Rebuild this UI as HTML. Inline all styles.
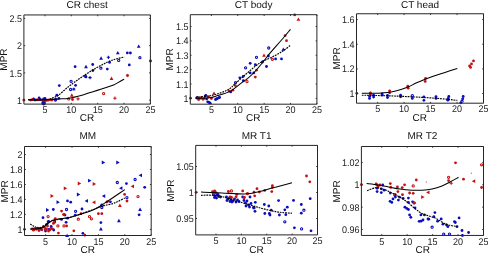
<!DOCTYPE html><html><head><meta charset="utf-8"><style>html,body{margin:0;padding:0;background:#fff;overflow:hidden;}svg{display:block;will-change:transform;text-rendering:geometricPrecision;font-family:"Liberation Sans",sans-serif;}</style></head><body>
<svg width="488" height="253" viewBox="0 0 488 253">
<rect width="488" height="253" fill="#fff"/>
<path d="M138.7,44.4 L140.6,47.82 L136.79999999999998,47.82Z" fill="#0c0cbc"/>
<path d="M117.8,50.9 L119.7,54.32 L115.89999999999999,54.32Z" fill="#0c0cbc"/>
<circle cx="127.3" cy="52.9" r="1.4" fill="#0c0cbc"/>
<circle cx="130.4" cy="53" r="1.4" fill="#0c0cbc"/>
<path d="M106.80000000000001,57.3 H110.0 M108.4,55.699999999999996 V58.9" stroke="#0c0cbc" stroke-width="1.1"/>
<path d="M101.1,56.300000000000004 L103.0,59.720000000000006 L99.19999999999999,59.720000000000006Z" fill="#0c0cbc"/>
<circle cx="139.9" cy="57.7" r="1.1" fill="none" stroke="#0c0cbc" stroke-width="1.1"/>
<circle cx="118.7" cy="60.4" r="1.1" fill="none" stroke="#0c0cbc" stroke-width="1.1"/>
<circle cx="109.6" cy="62.4" r="1.4" fill="#0c0cbc"/>
<circle cx="150.5" cy="61" r="1.4" fill="#0c0cbc"/>
<path d="M86,64.8 L87.9,68.22 L84.1,68.22Z" fill="#0c0cbc"/>
<circle cx="92.7" cy="64.5" r="1.4" fill="#0c0cbc"/>
<circle cx="100.9" cy="68.2" r="1.1" fill="none" stroke="#0c0cbc" stroke-width="1.1"/>
<circle cx="92.9" cy="70.5" r="1.4" fill="#0c0cbc"/>
<circle cx="107.3" cy="69.1" r="1.4" fill="#0c0cbc"/>
<circle cx="129.3" cy="64.9" r="1.4" fill="#0c0cbc"/>
<circle cx="86" cy="76.9" r="1.4" fill="#0c0cbc"/>
<path d="M88.4,77.6 H91.6 M90,76.0 V79.19999999999999" stroke="#0c0cbc" stroke-width="1.1"/>
<circle cx="75.1" cy="66.7" r="1.4" fill="#0c0cbc"/>
<circle cx="85.3" cy="76.2" r="1.1" fill="none" stroke="#0c0cbc" stroke-width="1.1"/>
<circle cx="71.1" cy="81.3" r="1.1" fill="none" stroke="#0c0cbc" stroke-width="1.1"/>
<circle cx="59.3" cy="85.6" r="1.4" fill="#0c0cbc"/>
<circle cx="75.6" cy="85.3" r="1.4" fill="#0c0cbc"/>
<circle cx="70.6" cy="89.5" r="1.1" fill="none" stroke="#0c0cbc" stroke-width="1.1"/>
<path d="M72.2,89.2 H75.39999999999999 M73.8,87.60000000000001 V90.8 M72.7,88.10000000000001 L74.89999999999999,90.3 M72.7,90.3 L74.89999999999999,88.10000000000001" stroke="#0c0cbc" stroke-width="0.9"/>
<circle cx="56.8" cy="95.2" r="1.4" fill="#0c0cbc"/>
<circle cx="55.4" cy="100" r="1.1" fill="none" stroke="#0c0cbc" stroke-width="1.1"/>
<circle cx="58.9" cy="98.3" r="1.4" fill="#0c0cbc"/>
<circle cx="33.6" cy="99" r="1.4" fill="#0c0cbc"/>
<circle cx="35" cy="100" r="1.4" fill="#0c0cbc"/>
<circle cx="39.1" cy="97.9" r="1.4" fill="#0c0cbc"/>
<circle cx="40" cy="99.5" r="1.4" fill="#0c0cbc"/>
<circle cx="43.6" cy="99" r="1.4" fill="#0c0cbc"/>
<circle cx="45" cy="98.5" r="1.4" fill="#0c0cbc"/>
<circle cx="43.6" cy="103.1" r="2.3" fill="#0c0cbc"/>
<circle cx="55.7" cy="99.4" r="1.4" fill="#0c0cbc"/>
<path d="M111.5,76.6 L113.4,80.02 L109.6,80.02Z" fill="#c41212"/>
<path d="M125.9,75.5 H129.1 M127.5,73.9 V77.1 M126.4,74.4 L128.6,76.6 M126.4,76.6 L128.6,74.4" stroke="#c41212" stroke-width="0.9"/>
<circle cx="103.6" cy="93.6" r="1.1" fill="none" stroke="#c41212" stroke-width="1.1"/>
<path d="M71.8,93.3 L73.7,96.72 L69.89999999999999,96.72Z" fill="#c41212"/>
<circle cx="68.7" cy="98.9" r="1.1" fill="none" stroke="#c41212" stroke-width="1.1"/>
<circle cx="72.5" cy="99.5" r="1.4" fill="#c41212"/>
<path d="M76.4,98.9 H79.6 M78,97.30000000000001 V100.5" stroke="#c41212" stroke-width="1.1"/>
<circle cx="23.8" cy="100.1" r="1.4" fill="#c41212"/>
<circle cx="30.6" cy="100.1" r="1.4" fill="#c41212"/>
<circle cx="36.8" cy="99.8" r="1.4" fill="#c41212"/>
<circle cx="41.5" cy="99.8" r="1.4" fill="#c41212"/>
<circle cx="47.8" cy="100.1" r="1.4" fill="#c41212"/>
<circle cx="52" cy="100" r="1.4" fill="#c41212"/>
<path d="M113.30000000000001,98.2 H116.5 M114.9,96.60000000000001 V99.8" stroke="#c41212" stroke-width="1.1"/>
<circle cx="32.5" cy="99.5" r="1.4" fill="#c41212"/>
<circle cx="38" cy="99.8" r="1.4" fill="#c41212"/>
<circle cx="44.5" cy="100.8" r="1.4" fill="#c41212"/>
<circle cx="50" cy="99.8" r="1.4" fill="#c41212"/>
<circle cx="46.1" cy="100.5" r="1.4" fill="#c41212"/>
<circle cx="48.4" cy="100.1" r="1.4" fill="#c41212"/>
<path d="M28.00,99.80 C30.00,99.82 36.33,99.93 40.00,99.90 C43.67,99.87 46.83,99.75 50.00,99.60 C53.17,99.45 55.83,99.23 59.00,99.00 C62.17,98.77 65.17,98.83 69.00,98.20 C72.83,97.57 78.50,96.13 82.00,95.20 C85.50,94.27 87.00,93.55 90.00,92.60 C93.00,91.65 96.08,90.78 100.00,89.50 C103.92,88.22 110.50,86.05 113.50,84.90 C116.50,83.75 116.23,83.55 118.00,82.60 C119.77,81.65 123.08,79.77 124.10,79.20" fill="none" stroke="#000" stroke-width="1.05"/>
<path d="M28.00,99.80 C30.00,99.82 36.75,99.95 40.00,99.90 C43.25,99.85 45.33,99.85 47.50,99.50 C49.67,99.15 51.18,98.50 53.00,97.80 C54.82,97.10 55.98,97.02 58.40,95.30 C60.82,93.58 64.48,89.93 67.50,87.50 C70.52,85.07 73.42,82.92 76.50,80.70 C79.58,78.48 82.60,76.38 86.00,74.20 C89.40,72.02 93.27,69.63 96.90,67.60 C100.53,65.57 104.62,63.43 107.80,62.00 C110.98,60.57 113.27,59.82 116.00,59.00 C118.73,58.18 122.83,57.42 124.20,57.10" fill="none" stroke="#000" stroke-width="1.15" stroke-dasharray="1.8,0.9"/>
<path d="M23.9,14.95 H150.4 V104.1 H23.9 Z" fill="none" stroke="#262626" stroke-width="1.0"/>
<path d="M44.98,104.1 V102.8 M44.98,14.95 V16.25" stroke="#262626" stroke-width="0.9"/>
<text x="44.98" y="112.6" font-size="9.7" text-anchor="middle" fill="#222" textLength="5.004" lengthAdjust="spacingAndGlyphs">5</text>
<path d="M71.34,104.1 V102.8 M71.34,14.95 V16.25" stroke="#262626" stroke-width="0.9"/>
<text x="71.34" y="112.6" font-size="9.7" text-anchor="middle" fill="#222" textLength="10.008" lengthAdjust="spacingAndGlyphs">10</text>
<path d="M97.69,104.1 V102.8 M97.69,14.95 V16.25" stroke="#262626" stroke-width="0.9"/>
<text x="97.69" y="112.6" font-size="9.7" text-anchor="middle" fill="#222" textLength="10.008" lengthAdjust="spacingAndGlyphs">15</text>
<path d="M124.05,104.1 V102.8 M124.05,14.95 V16.25" stroke="#262626" stroke-width="0.9"/>
<text x="124.05" y="112.6" font-size="9.7" text-anchor="middle" fill="#222" textLength="10.008" lengthAdjust="spacingAndGlyphs">20</text>
<path d="M150.40,104.1 V102.8 M150.40,14.95 V16.25" stroke="#262626" stroke-width="0.9"/>
<text x="150.40" y="112.6" font-size="9.7" text-anchor="middle" fill="#222" textLength="10.008" lengthAdjust="spacingAndGlyphs">25</text>
<path d="M23.9,100.15 H25.2 M150.4,100.15 H149.1" stroke="#262626" stroke-width="0.9"/>
<text x="22.00" y="103.75" font-size="9.7" text-anchor="end" fill="#222" textLength="5.004" lengthAdjust="spacingAndGlyphs">1</text>
<path d="M23.9,72.9 H25.2 M150.4,72.9 H149.1" stroke="#262626" stroke-width="0.9"/>
<text x="22.00" y="76.50" font-size="9.7" text-anchor="end" fill="#222" textLength="12.51" lengthAdjust="spacingAndGlyphs">1.5</text>
<path d="M23.9,45.65 H25.2 M150.4,45.65 H149.1" stroke="#262626" stroke-width="0.9"/>
<text x="22.00" y="49.25" font-size="9.7" text-anchor="end" fill="#222" textLength="5.004" lengthAdjust="spacingAndGlyphs">2</text>
<path d="M23.9,18.4 H25.2 M150.4,18.4 H149.1" stroke="#262626" stroke-width="0.9"/>
<text x="22.00" y="22.00" font-size="9.7" text-anchor="end" fill="#222" textLength="12.51" lengthAdjust="spacingAndGlyphs">2.5</text>
<text x="87.15" y="8.1" font-size="10" text-anchor="middle" fill="#111">CR chest</text>
<text x="87.0" y="120.9" font-size="10" text-anchor="middle" fill="#111">CR</text>
<text transform="translate(7.4,59.52) rotate(-90)" x="0" y="0" font-size="10" text-anchor="middle" fill="#111">MPR</text>
<circle cx="268.7" cy="48" r="1.1" fill="none" stroke="#0c0cbc" stroke-width="1.1"/>
<path d="M283.3,47.4 L285.2,50.82 L281.40000000000003,50.82Z" fill="#0c0cbc"/>
<circle cx="256.5" cy="57.3" r="1.1" fill="none" stroke="#0c0cbc" stroke-width="1.1"/>
<circle cx="268.4" cy="56" r="1.4" fill="#0c0cbc"/>
<circle cx="275.6" cy="58.9" r="1.4" fill="#0c0cbc"/>
<circle cx="281.5" cy="58.9" r="1.4" fill="#0c0cbc"/>
<circle cx="262.5" cy="62" r="1.4" fill="#0c0cbc"/>
<circle cx="266.5" cy="66.5" r="1.4" fill="#0c0cbc"/>
<circle cx="250.2" cy="63.3" r="1.4" fill="#0c0cbc"/>
<circle cx="245.6" cy="67.8" r="1.1" fill="none" stroke="#0c0cbc" stroke-width="1.1"/>
<circle cx="255.3" cy="64.7" r="1.4" fill="#0c0cbc"/>
<circle cx="250.2" cy="72.9" r="1.4" fill="#0c0cbc"/>
<circle cx="253.8" cy="72.9" r="1.4" fill="#0c0cbc"/>
<circle cx="239.8" cy="77.8" r="1.4" fill="#0c0cbc"/>
<circle cx="243.2" cy="76.4" r="1.4" fill="#0c0cbc"/>
<circle cx="243.3" cy="80.7" r="1.4" fill="#0c0cbc"/>
<circle cx="235.5" cy="82.6" r="1.1" fill="none" stroke="#0c0cbc" stroke-width="1.1"/>
<circle cx="207.7" cy="101.8" r="1.4" fill="#0c0cbc"/>
<circle cx="209.9" cy="102.9" r="1.4" fill="#0c0cbc"/>
<circle cx="208.8" cy="102.3" r="1.4" fill="#0c0cbc"/>
<circle cx="205.8" cy="95.5" r="1.4" fill="#0c0cbc"/>
<circle cx="216.4" cy="99" r="1.4" fill="#0c0cbc"/>
<circle cx="219.3" cy="97.6" r="1.4" fill="#0c0cbc"/>
<circle cx="230.7" cy="91.9" r="1.4" fill="#0c0cbc"/>
<circle cx="197.4" cy="97.4" r="1.4" fill="#0c0cbc"/>
<circle cx="199.2" cy="98.9" r="1.4" fill="#0c0cbc"/>
<path d="M203.9,95.5 H207.1 M205.5,93.9 V97.1" stroke="#0c0cbc" stroke-width="1.1"/>
<circle cx="206.6" cy="98.9" r="1.4" fill="#0c0cbc"/>
<circle cx="215.5" cy="99.5" r="1.4" fill="#0c0cbc"/>
<circle cx="217.5" cy="98.5" r="1.4" fill="#0c0cbc"/>
<circle cx="219.5" cy="97.3" r="1.4" fill="#0c0cbc"/>
<circle cx="294.7" cy="14.9" r="1.4" fill="#c41212"/>
<path d="M298.4,17.400000000000002 L300.29999999999995,20.82 L296.5,20.82Z" fill="#c41212"/>
<circle cx="285.1" cy="35.6" r="1.4" fill="#c41212"/>
<circle cx="286.5" cy="40.7" r="1.4" fill="#c41212"/>
<path d="M264,53.4 L265.9,56.82 L262.1,56.82Z" fill="#c41212"/>
<circle cx="272.4" cy="59.3" r="1.1" fill="none" stroke="#c41212" stroke-width="1.1"/>
<circle cx="256.5" cy="70.2" r="1.4" fill="#c41212"/>
<circle cx="255.3" cy="77.1" r="1.4" fill="#c41212"/>
<circle cx="247" cy="81.6" r="1.1" fill="none" stroke="#c41212" stroke-width="1.1"/>
<circle cx="235.3" cy="85.6" r="1.4" fill="#c41212"/>
<circle cx="232.9" cy="90.2" r="1.4" fill="#c41212"/>
<circle cx="190.5" cy="98.2" r="1.4" fill="#c41212"/>
<path d="M214,91.39999999999999 L215.9,94.82 L212.1,94.82Z" fill="#c41212"/>
<circle cx="229.3" cy="91.2" r="1.4" fill="#c41212"/>
<circle cx="196.6" cy="98.1" r="1.4" fill="#c41212"/>
<circle cx="201.1" cy="97.7" r="1.4" fill="#c41212"/>
<circle cx="204.4" cy="98.1" r="1.4" fill="#c41212"/>
<circle cx="208.5" cy="97" r="1.4" fill="#c41212"/>
<circle cx="211.4" cy="98.5" r="1.4" fill="#c41212"/>
<circle cx="198.5" cy="99.5" r="1.4" fill="#c41212"/>
<circle cx="203" cy="99.3" r="1.4" fill="#c41212"/>
<path d="M195.80,98.40 C198.00,98.30 205.47,98.23 209.00,97.80 C212.53,97.37 213.52,96.87 217.00,95.80 C220.48,94.73 225.98,93.43 229.90,91.40 C233.82,89.37 237.57,85.73 240.50,83.60 C243.43,81.47 245.08,80.62 247.50,78.60 C249.92,76.58 252.48,74.18 255.00,71.50 C257.52,68.82 260.10,65.55 262.60,62.50 C265.10,59.45 266.85,56.95 270.00,53.20 C273.15,49.45 278.08,43.98 281.50,40.00 C284.92,36.02 289.00,31.08 290.50,29.30" fill="none" stroke="#000" stroke-width="1.05"/>
<path d="M195.80,97.40 C198.63,97.03 207.48,96.43 212.80,95.20 C218.12,93.97 223.97,91.93 227.70,90.00 C231.43,88.07 232.18,86.22 235.20,83.60 C238.22,80.98 242.43,77.20 245.80,74.30 C249.17,71.40 252.70,68.32 255.40,66.20 C258.10,64.08 259.30,63.08 262.00,61.60 C264.70,60.12 268.18,59.02 271.60,57.30 C275.02,55.58 279.35,53.32 282.50,51.30 C285.65,49.28 289.17,46.22 290.50,45.20" fill="none" stroke="#000" stroke-width="1.15" stroke-dasharray="1.8,0.9"/>
<path d="M190.3,14.7 H316.9 V104.2 H190.3 Z" fill="none" stroke="#262626" stroke-width="1.0"/>
<path d="M211.40,104.2 V102.9 M211.40,14.7 V16.0" stroke="#262626" stroke-width="0.9"/>
<text x="211.40" y="112.6" font-size="9.7" text-anchor="middle" fill="#222" textLength="5.004" lengthAdjust="spacingAndGlyphs">5</text>
<path d="M237.78,104.2 V102.9 M237.78,14.7 V16.0" stroke="#262626" stroke-width="0.9"/>
<text x="237.78" y="112.6" font-size="9.7" text-anchor="middle" fill="#222" textLength="10.008" lengthAdjust="spacingAndGlyphs">10</text>
<path d="M264.15,104.2 V102.9 M264.15,14.7 V16.0" stroke="#262626" stroke-width="0.9"/>
<text x="264.15" y="112.6" font-size="9.7" text-anchor="middle" fill="#222" textLength="10.008" lengthAdjust="spacingAndGlyphs">15</text>
<path d="M290.52,104.2 V102.9 M290.52,14.7 V16.0" stroke="#262626" stroke-width="0.9"/>
<text x="290.52" y="112.6" font-size="9.7" text-anchor="middle" fill="#222" textLength="10.008" lengthAdjust="spacingAndGlyphs">20</text>
<path d="M316.90,104.2 V102.9 M316.90,14.7 V16.0" stroke="#262626" stroke-width="0.9"/>
<text x="316.90" y="112.6" font-size="9.7" text-anchor="middle" fill="#222" textLength="10.008" lengthAdjust="spacingAndGlyphs">25</text>
<path d="M190.3,98.4 H191.60000000000002 M316.9,98.4 H315.59999999999997" stroke="#262626" stroke-width="0.9"/>
<text x="188.40" y="102.00" font-size="9.7" text-anchor="end" fill="#222" textLength="5.004" lengthAdjust="spacingAndGlyphs">1</text>
<path d="M190.3,84.02 H191.60000000000002 M316.9,84.02 H315.59999999999997" stroke="#262626" stroke-width="0.9"/>
<text x="188.40" y="87.62" font-size="9.7" text-anchor="end" fill="#222" textLength="12.51" lengthAdjust="spacingAndGlyphs">1.1</text>
<path d="M190.3,69.64 H191.60000000000002 M316.9,69.64 H315.59999999999997" stroke="#262626" stroke-width="0.9"/>
<text x="188.40" y="73.24" font-size="9.7" text-anchor="end" fill="#222" textLength="12.51" lengthAdjust="spacingAndGlyphs">1.2</text>
<path d="M190.3,55.26 H191.60000000000002 M316.9,55.26 H315.59999999999997" stroke="#262626" stroke-width="0.9"/>
<text x="188.40" y="58.86" font-size="9.7" text-anchor="end" fill="#222" textLength="12.51" lengthAdjust="spacingAndGlyphs">1.3</text>
<path d="M190.3,40.88 H191.60000000000002 M316.9,40.88 H315.59999999999997" stroke="#262626" stroke-width="0.9"/>
<text x="188.40" y="44.48" font-size="9.7" text-anchor="end" fill="#222" textLength="12.51" lengthAdjust="spacingAndGlyphs">1.4</text>
<path d="M190.3,26.5 H191.60000000000002 M316.9,26.5 H315.59999999999997" stroke="#262626" stroke-width="0.9"/>
<text x="188.40" y="30.10" font-size="9.7" text-anchor="end" fill="#222" textLength="12.51" lengthAdjust="spacingAndGlyphs">1.5</text>
<text x="253.60" y="8.1" font-size="10" text-anchor="middle" fill="#111">CT body</text>
<text x="253.2" y="120.9" font-size="10" text-anchor="middle" fill="#111">CR</text>
<text transform="translate(173.4,59.45) rotate(-90)" x="0" y="0" font-size="10" text-anchor="middle" fill="#111">MPR</text>
<circle cx="369.7" cy="96.4" r="1.4" fill="#0c0cbc"/>
<circle cx="369.5" cy="98.4" r="1.4" fill="#0c0cbc"/>
<circle cx="373.6" cy="95.2" r="1.4" fill="#0c0cbc"/>
<circle cx="373.6" cy="97.0" r="1.4" fill="#0c0cbc"/>
<circle cx="382.1" cy="94" r="1.4" fill="#0c0cbc"/>
<circle cx="382.1" cy="95.0" r="1.4" fill="#0c0cbc"/>
<circle cx="387.5" cy="95.5" r="1.4" fill="#0c0cbc"/>
<circle cx="387.5" cy="97.6" r="1.4" fill="#0c0cbc"/>
<circle cx="400.6" cy="95.2" r="1.4" fill="#0c0cbc"/>
<circle cx="400.6" cy="96.8" r="1.4" fill="#0c0cbc"/>
<circle cx="412.3" cy="95.6" r="1.1" fill="none" stroke="#0c0cbc" stroke-width="1.1"/>
<circle cx="412.3" cy="98.4" r="1.4" fill="#0c0cbc"/>
<circle cx="423.9" cy="96.9" r="1.4" fill="#0c0cbc"/>
<circle cx="423.9" cy="100.3" r="1.4" fill="#0c0cbc"/>
<circle cx="436" cy="96.6" r="1.4" fill="#0c0cbc"/>
<circle cx="436" cy="98.4" r="1.4" fill="#0c0cbc"/>
<circle cx="448.8" cy="96.5" r="1.4" fill="#0c0cbc"/>
<circle cx="447.8" cy="100.2" r="1.4" fill="#0c0cbc"/>
<circle cx="448.2" cy="98.4" r="1.4" fill="#0c0cbc"/>
<circle cx="463.2" cy="96.5" r="1.4" fill="#0c0cbc"/>
<circle cx="462" cy="101.2" r="1.1" fill="none" stroke="#0c0cbc" stroke-width="1.1"/>
<circle cx="462.7" cy="98.8" r="1.4" fill="#0c0cbc"/>
<circle cx="460.8" cy="102.8" r="1.4" fill="#0c0cbc"/>
<circle cx="356.8" cy="93.3" r="1.4" fill="#c41212"/>
<circle cx="370.4" cy="93.0" r="1.4" fill="#c41212"/>
<circle cx="370.4" cy="94.6" r="1.4" fill="#c41212"/>
<circle cx="389.6" cy="90.8" r="1.4" fill="#c41212"/>
<circle cx="389.6" cy="92.8" r="1.4" fill="#c41212"/>
<circle cx="407.8" cy="86.2" r="1.4" fill="#c41212"/>
<circle cx="408.2" cy="88.2" r="1.4" fill="#c41212"/>
<circle cx="425.6" cy="78.4" r="1.4" fill="#c41212"/>
<circle cx="425.2" cy="81.4" r="1.4" fill="#c41212"/>
<circle cx="469.6" cy="65.9" r="1.4" fill="#c41212"/>
<circle cx="471.5" cy="63.9" r="1.4" fill="#c41212"/>
<circle cx="473.5" cy="60.9" r="1.4" fill="#c41212"/>
<circle cx="470.6" cy="67.4" r="1.4" fill="#c41212"/>
<path d="M361.80,93.30 C364.42,93.28 373.13,93.32 377.50,93.20 C381.87,93.08 384.67,93.03 388.00,92.60 C391.33,92.17 394.28,91.48 397.50,90.60 C400.72,89.72 404.22,88.55 407.30,87.30 C410.38,86.05 413.05,84.45 416.00,83.10 C418.95,81.75 422.00,80.38 425.00,79.20 C428.00,78.02 430.67,77.13 434.00,76.00 C437.33,74.87 441.12,73.63 445.00,72.40 C448.88,71.17 455.25,69.23 457.30,68.60" fill="none" stroke="#000" stroke-width="1.05"/>
<path d="M361.80,95.20 C367.17,95.33 381.97,95.52 394.00,96.00 C406.03,96.48 423.45,97.37 434.00,98.10 C444.55,98.83 453.42,100.02 457.30,100.40" fill="none" stroke="#000" stroke-width="1.15" stroke-dasharray="1.8,0.9"/>
<path d="M356.5,13.75 H483.5 V103.2 H356.5 Z" fill="none" stroke="#262626" stroke-width="1.0"/>
<path d="M377.67,103.2 V101.9 M377.67,13.75 V15.05" stroke="#262626" stroke-width="0.9"/>
<text x="377.67" y="111.89999999999999" font-size="9.7" text-anchor="middle" fill="#222" textLength="5.004" lengthAdjust="spacingAndGlyphs">5</text>
<path d="M404.12,103.2 V101.9 M404.12,13.75 V15.05" stroke="#262626" stroke-width="0.9"/>
<text x="404.12" y="111.89999999999999" font-size="9.7" text-anchor="middle" fill="#222" textLength="10.008" lengthAdjust="spacingAndGlyphs">10</text>
<path d="M430.58,103.2 V101.9 M430.58,13.75 V15.05" stroke="#262626" stroke-width="0.9"/>
<text x="430.58" y="111.89999999999999" font-size="9.7" text-anchor="middle" fill="#222" textLength="10.008" lengthAdjust="spacingAndGlyphs">15</text>
<path d="M457.04,103.2 V101.9 M457.04,13.75 V15.05" stroke="#262626" stroke-width="0.9"/>
<text x="457.04" y="111.89999999999999" font-size="9.7" text-anchor="middle" fill="#222" textLength="10.008" lengthAdjust="spacingAndGlyphs">20</text>
<path d="M483.50,103.2 V101.9 M483.50,13.75 V15.05" stroke="#262626" stroke-width="0.9"/>
<text x="483.50" y="111.89999999999999" font-size="9.7" text-anchor="middle" fill="#222" textLength="10.008" lengthAdjust="spacingAndGlyphs">25</text>
<path d="M356.5,93.5 H357.8 M483.5,93.5 H482.2" stroke="#262626" stroke-width="0.9"/>
<text x="354.60" y="97.10" font-size="9.7" text-anchor="end" fill="#222" textLength="5.004" lengthAdjust="spacingAndGlyphs">1</text>
<path d="M356.5,68.87 H357.8 M483.5,68.87 H482.2" stroke="#262626" stroke-width="0.9"/>
<text x="354.60" y="72.47" font-size="9.7" text-anchor="end" fill="#222" textLength="12.51" lengthAdjust="spacingAndGlyphs">1.2</text>
<path d="M356.5,44.23 H357.8 M483.5,44.23 H482.2" stroke="#262626" stroke-width="0.9"/>
<text x="354.60" y="47.83" font-size="9.7" text-anchor="end" fill="#222" textLength="12.51" lengthAdjust="spacingAndGlyphs">1.4</text>
<path d="M356.5,19.6 H357.8 M483.5,19.6 H482.2" stroke="#262626" stroke-width="0.9"/>
<text x="354.60" y="23.20" font-size="9.7" text-anchor="end" fill="#222" textLength="12.51" lengthAdjust="spacingAndGlyphs">1.6</text>
<text x="420.00" y="7.6" font-size="10" text-anchor="middle" fill="#111">CT head</text>
<text x="419.8" y="120.5" font-size="10" text-anchor="middle" fill="#111">CR</text>
<text transform="translate(340.4,58.48) rotate(-90)" x="0" y="0" font-size="10" text-anchor="middle" fill="#111">MPR</text>
<path d="M105.2,162.5 L101.78,160.6 L101.78,164.4Z" fill="#0c0cbc"/>
<path d="M119.7,162.5 L116.28,160.6 L116.28,164.4Z" fill="#0c0cbc"/>
<path d="M138.6,175.3 L142.02,173.4 L142.02,177.20000000000002Z" fill="#0c0cbc"/>
<circle cx="135.1" cy="179.5" r="1.1" fill="none" stroke="#0c0cbc" stroke-width="1.1"/>
<path d="M91.5,180.7 L88.08,178.79999999999998 L88.08,182.6Z" fill="#0c0cbc"/>
<circle cx="117.3" cy="182.5" r="1.1" fill="none" stroke="#0c0cbc" stroke-width="1.1"/>
<circle cx="126.4" cy="183.6" r="1.4" fill="#0c0cbc"/>
<path d="M119.0,188.2 L122.42,186.29999999999998 L122.42,190.1Z" fill="#0c0cbc"/>
<circle cx="144.7" cy="187.3" r="1.4" fill="#0c0cbc"/>
<path d="M80.30000000000001,194.5 L76.88000000000001,192.6 L76.88000000000001,196.4Z" fill="#0c0cbc"/>
<path d="M59.9,202.2 L56.48,200.29999999999998 L56.48,204.1Z" fill="#0c0cbc"/>
<circle cx="67.5" cy="200.9" r="1.4" fill="#0c0cbc"/>
<circle cx="70.7" cy="202.2" r="1.4" fill="#0c0cbc"/>
<path d="M84.6,200.9 L88.02,199.0 L88.02,202.8Z" fill="#0c0cbc"/>
<path d="M49.4,210 L45.98,208.1 L45.98,211.9Z" fill="#0c0cbc"/>
<circle cx="53.3" cy="209.5" r="1.4" fill="#0c0cbc"/>
<circle cx="66.5" cy="209.5" r="1.1" fill="none" stroke="#0c0cbc" stroke-width="1.1"/>
<circle cx="75.6" cy="211.3" r="1.1" fill="none" stroke="#0c0cbc" stroke-width="1.1"/>
<circle cx="82" cy="209" r="1.4" fill="#0c0cbc"/>
<path d="M101.8,196.1 L105.22,194.2 L105.22,198.0Z" fill="#0c0cbc"/>
<circle cx="110.4" cy="201.8" r="1.4" fill="#0c0cbc"/>
<circle cx="126.9" cy="197.6" r="1.1" fill="none" stroke="#0c0cbc" stroke-width="1.1"/>
<circle cx="101.8" cy="205.2" r="1.1" fill="none" stroke="#0c0cbc" stroke-width="1.1"/>
<circle cx="101.8" cy="207.5" r="1.1" fill="none" stroke="#0c0cbc" stroke-width="1.1"/>
<circle cx="75.3" cy="215.1" r="1.4" fill="#0c0cbc"/>
<path d="M118.9,218.79999999999998 L120.80000000000001,222.22 L117.0,222.22Z" fill="#0c0cbc"/>
<circle cx="100.9" cy="222.6" r="1.4" fill="#0c0cbc"/>
<path d="M100.9,227.0 L102.80000000000001,230.42000000000002 L99.0,230.42000000000002Z" fill="#0c0cbc"/>
<circle cx="82.9" cy="233.3" r="1.4" fill="#0c0cbc"/>
<path d="M140.1,207.6 L142.0,211.02 L138.2,211.02Z" fill="#0c0cbc"/>
<circle cx="139.1" cy="214.8" r="1.4" fill="#0c0cbc"/>
<circle cx="39.4" cy="228.4" r="1.4" fill="#0c0cbc"/>
<circle cx="41.4" cy="229.5" r="1.4" fill="#0c0cbc"/>
<circle cx="49.1" cy="229.5" r="1.4" fill="#0c0cbc"/>
<circle cx="51.2" cy="226.4" r="1.4" fill="#0c0cbc"/>
<circle cx="53.7" cy="230" r="1.4" fill="#0c0cbc"/>
<circle cx="43" cy="217.7" r="1.4" fill="#0c0cbc"/>
<circle cx="48.1" cy="221.8" r="1.4" fill="#0c0cbc"/>
<circle cx="65" cy="215.1" r="1.4" fill="#0c0cbc"/>
<circle cx="66.1" cy="222.3" r="1.4" fill="#0c0cbc"/>
<circle cx="61.5" cy="219.4" r="1.4" fill="#0c0cbc"/>
<circle cx="67.6" cy="218.2" r="1.4" fill="#0c0cbc"/>
<path d="M67.1,233.7 L69.0,237.12 L65.19999999999999,237.12Z" fill="#0c0cbc"/>
<circle cx="45.5" cy="231" r="1.4" fill="#0c0cbc"/>
<circle cx="46.7" cy="224.3" r="1.4" fill="#0c0cbc"/>
<circle cx="48.6" cy="221.5" r="1.4" fill="#0c0cbc"/>
<circle cx="54.8" cy="222" r="1.4" fill="#0c0cbc"/>
<path d="M96.10000000000001,184 L92.68,182.1 L92.68,185.9Z" fill="#c41212"/>
<path d="M81.2,183.5 L77.78,181.6 L77.78,185.4Z" fill="#c41212"/>
<path d="M67.2,188.3 L63.779999999999994,186.4 L63.779999999999994,190.20000000000002Z" fill="#c41212"/>
<path d="M53.9,196 L50.48,194.1 L50.48,197.9Z" fill="#c41212"/>
<circle cx="61.6" cy="211.1" r="1.4" fill="#c41212"/>
<circle cx="64.2" cy="214.4" r="1.4" fill="#c41212"/>
<circle cx="78.3" cy="219.2" r="1.1" fill="none" stroke="#c41212" stroke-width="1.1"/>
<circle cx="24.4" cy="229.3" r="1.4" fill="#c41212"/>
<path d="M92.0,202.3 L95.42,200.4 L95.42,204.20000000000002Z" fill="#c41212"/>
<circle cx="107.5" cy="201.6" r="1.4" fill="#c41212"/>
<circle cx="124.6" cy="194.4" r="1.4" fill="#c41212"/>
<path d="M119.9,203.6 L121.80000000000001,207.02 L118.0,207.02Z" fill="#c41212"/>
<circle cx="81" cy="213.7" r="1.4" fill="#c41212"/>
<circle cx="89.5" cy="216.6" r="1.1" fill="none" stroke="#c41212" stroke-width="1.1"/>
<circle cx="91.4" cy="218.8" r="1.1" fill="none" stroke="#c41212" stroke-width="1.1"/>
<circle cx="98.4" cy="213.7" r="1.4" fill="#c41212"/>
<circle cx="101.8" cy="213.7" r="1.4" fill="#c41212"/>
<circle cx="73.8" cy="230.8" r="1.4" fill="#c41212"/>
<circle cx="84.8" cy="235.2" r="1.4" fill="#c41212"/>
<path d="M130.6,186.3 L134.02,184.4 L134.02,188.20000000000002Z" fill="#c41212"/>
<circle cx="127" cy="201" r="1.4" fill="#c41212"/>
<circle cx="138" cy="196.6" r="1.1" fill="none" stroke="#c41212" stroke-width="1.1"/>
<circle cx="106.8" cy="202.1" r="1.4" fill="#c41212"/>
<circle cx="32.2" cy="229" r="1.4" fill="#c41212"/>
<circle cx="34.5" cy="228.6" r="1.4" fill="#c41212"/>
<circle cx="36.3" cy="229.3" r="1.4" fill="#c41212"/>
<circle cx="39" cy="230.5" r="1.4" fill="#c41212"/>
<circle cx="42" cy="229.8" r="1.4" fill="#c41212"/>
<circle cx="44.5" cy="227.5" r="1.4" fill="#c41212"/>
<circle cx="46.5" cy="229" r="1.4" fill="#c41212"/>
<circle cx="48.5" cy="231" r="1.4" fill="#c41212"/>
<circle cx="51" cy="228.2" r="1.4" fill="#c41212"/>
<circle cx="54.8" cy="219.7" r="1.4" fill="#c41212"/>
<circle cx="54.3" cy="222.3" r="1.4" fill="#c41212"/>
<circle cx="48.1" cy="216.6" r="1.1" fill="none" stroke="#c41212" stroke-width="1.1"/>
<circle cx="63.5" cy="214.6" r="1.4" fill="#c41212"/>
<circle cx="57.9" cy="225.9" r="1.1" fill="none" stroke="#c41212" stroke-width="1.1"/>
<circle cx="64" cy="225.9" r="1.1" fill="none" stroke="#c41212" stroke-width="1.1"/>
<circle cx="66.6" cy="225.9" r="1.4" fill="#c41212"/>
<circle cx="58.4" cy="233.1" r="1.4" fill="#c41212"/>
<circle cx="43.5" cy="226.5" r="1.4" fill="#c41212"/>
<circle cx="47.5" cy="226" r="1.4" fill="#c41212"/>
<circle cx="33.5" cy="230.2" r="1.4" fill="#c41212"/>
<circle cx="37.5" cy="228.2" r="1.4" fill="#c41212"/>
<circle cx="40.5" cy="228.2" r="1.4" fill="#c41212"/>
<circle cx="45.5" cy="229.5" r="1.4" fill="#c41212"/>
<circle cx="50" cy="229.8" r="1.4" fill="#c41212"/>
<circle cx="52.4" cy="228.8" r="1.4" fill="#c41212"/>
<circle cx="53.4" cy="223.4" r="1.4" fill="#c41212"/>
<circle cx="55.3" cy="218.6" r="1.4" fill="#c41212"/>
<path d="M29.90,229.10 C31.48,229.02 37.05,228.98 39.40,228.60 C41.75,228.22 42.57,227.67 44.00,226.80 C45.43,225.93 46.67,224.40 48.00,223.40 C49.33,222.40 50.53,221.47 52.00,220.80 C53.47,220.13 55.13,219.77 56.80,219.40 C58.47,219.03 59.80,218.93 62.00,218.60 C64.20,218.27 67.00,218.10 70.00,217.40 C73.00,216.70 75.97,215.72 80.00,214.40 C84.03,213.08 89.70,211.63 94.20,209.50 C98.70,207.37 103.53,203.80 107.00,201.60 C110.47,199.40 112.03,198.30 115.00,196.30 C117.97,194.30 123.17,190.72 124.80,189.60" fill="none" stroke="#000" stroke-width="1.05"/>
<path d="M30.20,224.10 C30.83,224.47 32.82,225.67 34.00,226.30 C35.18,226.93 36.13,227.68 37.30,227.90 C38.47,228.12 39.72,228.00 41.00,227.60 C42.28,227.20 43.67,226.38 45.00,225.50 C46.33,224.62 47.67,223.18 49.00,222.30 C50.33,221.42 51.18,220.73 53.00,220.20 C54.82,219.67 57.07,219.60 59.90,219.10 C62.73,218.60 66.65,218.02 70.00,217.20 C73.35,216.38 75.97,215.53 80.00,214.20 C84.03,212.87 90.42,210.57 94.20,209.20 C97.98,207.83 99.62,206.93 102.70,206.00 C105.78,205.07 110.15,204.37 112.70,203.60 C115.25,202.83 115.98,202.32 118.00,201.40 C120.02,200.48 123.67,198.65 124.80,198.10" fill="none" stroke="#000" stroke-width="1.15" stroke-dasharray="1.8,0.9"/>
<path d="M24.5,146.5 H151.2 V235.5 H24.5 Z" fill="none" stroke="#262626" stroke-width="1.0"/>
<path d="M45.62,235.5 V234.2 M45.62,146.5 V147.8" stroke="#262626" stroke-width="0.9"/>
<text x="45.62" y="244.7" font-size="9.7" text-anchor="middle" fill="#222" textLength="5.004" lengthAdjust="spacingAndGlyphs">5</text>
<path d="M72.01,235.5 V234.2 M72.01,146.5 V147.8" stroke="#262626" stroke-width="0.9"/>
<text x="72.01" y="244.7" font-size="9.7" text-anchor="middle" fill="#222" textLength="10.008" lengthAdjust="spacingAndGlyphs">10</text>
<path d="M98.41,235.5 V234.2 M98.41,146.5 V147.8" stroke="#262626" stroke-width="0.9"/>
<text x="98.41" y="244.7" font-size="9.7" text-anchor="middle" fill="#222" textLength="10.008" lengthAdjust="spacingAndGlyphs">15</text>
<path d="M124.80,235.5 V234.2 M124.80,146.5 V147.8" stroke="#262626" stroke-width="0.9"/>
<text x="124.80" y="244.7" font-size="9.7" text-anchor="middle" fill="#222" textLength="10.008" lengthAdjust="spacingAndGlyphs">20</text>
<path d="M151.20,235.5 V234.2 M151.20,146.5 V147.8" stroke="#262626" stroke-width="0.9"/>
<text x="151.20" y="244.7" font-size="9.7" text-anchor="middle" fill="#222" textLength="10.008" lengthAdjust="spacingAndGlyphs">25</text>
<path d="M24.5,229.4 H25.8 M151.2,229.4 H149.89999999999998" stroke="#262626" stroke-width="0.9"/>
<text x="22.60" y="233.00" font-size="9.7" text-anchor="end" fill="#222" textLength="5.004" lengthAdjust="spacingAndGlyphs">1</text>
<path d="M24.5,214.42 H25.8 M151.2,214.42 H149.89999999999998" stroke="#262626" stroke-width="0.9"/>
<text x="22.60" y="218.02" font-size="9.7" text-anchor="end" fill="#222" textLength="12.51" lengthAdjust="spacingAndGlyphs">1.2</text>
<path d="M24.5,199.44 H25.8 M151.2,199.44 H149.89999999999998" stroke="#262626" stroke-width="0.9"/>
<text x="22.60" y="203.04" font-size="9.7" text-anchor="end" fill="#222" textLength="12.51" lengthAdjust="spacingAndGlyphs">1.4</text>
<path d="M24.5,184.46 H25.8 M151.2,184.46 H149.89999999999998" stroke="#262626" stroke-width="0.9"/>
<text x="22.60" y="188.06" font-size="9.7" text-anchor="end" fill="#222" textLength="12.51" lengthAdjust="spacingAndGlyphs">1.6</text>
<path d="M24.5,169.48 H25.8 M151.2,169.48 H149.89999999999998" stroke="#262626" stroke-width="0.9"/>
<text x="22.60" y="173.08" font-size="9.7" text-anchor="end" fill="#222" textLength="12.51" lengthAdjust="spacingAndGlyphs">1.8</text>
<path d="M24.5,154.5 H25.8 M151.2,154.5 H149.89999999999998" stroke="#262626" stroke-width="0.9"/>
<text x="22.60" y="158.10" font-size="9.7" text-anchor="end" fill="#222" textLength="5.004" lengthAdjust="spacingAndGlyphs">2</text>
<text x="87.85" y="139.35" font-size="10" text-anchor="middle" fill="#111">MM</text>
<text x="87.8" y="252.5" font-size="10" text-anchor="middle" fill="#111">CR</text>
<text transform="translate(8.1,191.40) rotate(-90)" x="0" y="0" font-size="10" text-anchor="middle" fill="#111">MPR</text>
<circle cx="213.5" cy="194.5" r="1.4" fill="#0c0cbc"/>
<circle cx="215" cy="196" r="1.4" fill="#0c0cbc"/>
<circle cx="217" cy="195" r="1.4" fill="#0c0cbc"/>
<circle cx="219" cy="196.5" r="1.4" fill="#0c0cbc"/>
<circle cx="214.5" cy="197.5" r="1.4" fill="#0c0cbc"/>
<circle cx="216.5" cy="198" r="1.4" fill="#0c0cbc"/>
<circle cx="220.5" cy="197" r="1.4" fill="#0c0cbc"/>
<circle cx="218" cy="194.5" r="1.4" fill="#0c0cbc"/>
<circle cx="226.5" cy="197" r="1.4" fill="#0c0cbc"/>
<circle cx="228" cy="199" r="1.4" fill="#0c0cbc"/>
<circle cx="229.5" cy="197.8" r="1.4" fill="#0c0cbc"/>
<circle cx="231" cy="200" r="1.4" fill="#0c0cbc"/>
<circle cx="233" cy="201" r="1.4" fill="#0c0cbc"/>
<circle cx="234.5" cy="199" r="1.4" fill="#0c0cbc"/>
<circle cx="236" cy="202" r="1.4" fill="#0c0cbc"/>
<circle cx="237.5" cy="200" r="1.4" fill="#0c0cbc"/>
<circle cx="239" cy="201.5" r="1.4" fill="#0c0cbc"/>
<circle cx="227" cy="200.5" r="1.4" fill="#0c0cbc"/>
<circle cx="232" cy="202" r="1.4" fill="#0c0cbc"/>
<circle cx="230" cy="201.5" r="1.4" fill="#0c0cbc"/>
<circle cx="242.7" cy="197" r="1.4" fill="#0c0cbc"/>
<circle cx="244" cy="200.5" r="1.4" fill="#0c0cbc"/>
<circle cx="245.5" cy="203" r="1.4" fill="#0c0cbc"/>
<circle cx="247" cy="201" r="1.4" fill="#0c0cbc"/>
<circle cx="248.5" cy="205" r="1.4" fill="#0c0cbc"/>
<circle cx="250" cy="197" r="1.4" fill="#0c0cbc"/>
<circle cx="249.5" cy="207" r="1.4" fill="#0c0cbc"/>
<circle cx="251" cy="203.5" r="1.4" fill="#0c0cbc"/>
<circle cx="246" cy="206" r="1.4" fill="#0c0cbc"/>
<circle cx="255.3" cy="202.3" r="1.4" fill="#0c0cbc"/>
<circle cx="253.5" cy="207.5" r="1.4" fill="#0c0cbc"/>
<circle cx="255" cy="211.3" r="1.4" fill="#0c0cbc"/>
<circle cx="264.3" cy="204.5" r="1.4" fill="#0c0cbc"/>
<circle cx="268.8" cy="206" r="1.4" fill="#0c0cbc"/>
<circle cx="271.2" cy="210.2" r="1.4" fill="#0c0cbc"/>
<circle cx="264.8" cy="213.5" r="1.4" fill="#0c0cbc"/>
<circle cx="269.3" cy="213.5" r="1.4" fill="#0c0cbc"/>
<circle cx="270" cy="215" r="1.4" fill="#0c0cbc"/>
<circle cx="278.6" cy="200.6" r="1.4" fill="#0c0cbc"/>
<circle cx="279.4" cy="215" r="1.4" fill="#0c0cbc"/>
<circle cx="287.3" cy="207.2" r="1.4" fill="#0c0cbc"/>
<circle cx="284.8" cy="209.8" r="1.4" fill="#0c0cbc"/>
<circle cx="285.8" cy="214.7" r="1.4" fill="#0c0cbc"/>
<circle cx="284.8" cy="221.8" r="1.1" fill="none" stroke="#0c0cbc" stroke-width="1.1"/>
<circle cx="293.5" cy="200.4" r="1.4" fill="#0c0cbc"/>
<circle cx="301.3" cy="204.5" r="1.4" fill="#0c0cbc"/>
<circle cx="303.9" cy="210.2" r="1.1" fill="none" stroke="#0c0cbc" stroke-width="1.1"/>
<circle cx="301.3" cy="213.2" r="1.4" fill="#0c0cbc"/>
<circle cx="294.4" cy="227.8" r="1.4" fill="#0c0cbc"/>
<circle cx="301.6" cy="228.9" r="1.1" fill="none" stroke="#0c0cbc" stroke-width="1.1"/>
<circle cx="311" cy="230.8" r="1.4" fill="#0c0cbc"/>
<circle cx="310.2" cy="198.7" r="1.4" fill="#0c0cbc"/>
<circle cx="254" cy="207.8" r="1.1" fill="none" stroke="#0c0cbc" stroke-width="1.1"/>
<circle cx="196.2" cy="192.3" r="1.4" fill="#c41212"/>
<circle cx="212.6" cy="191.6" r="1.4" fill="#c41212"/>
<circle cx="213.8" cy="192.8" r="1.4" fill="#c41212"/>
<circle cx="215" cy="191.4" r="1.4" fill="#c41212"/>
<circle cx="216" cy="192.8" r="1.4" fill="#c41212"/>
<circle cx="213.2" cy="193.4" r="1.4" fill="#c41212"/>
<circle cx="214.5" cy="191" r="1.4" fill="#c41212"/>
<circle cx="228.4" cy="191.5" r="1.4" fill="#c41212"/>
<circle cx="231.4" cy="190.9" r="1.1" fill="none" stroke="#c41212" stroke-width="1.1"/>
<circle cx="230.2" cy="196.8" r="1.4" fill="#c41212"/>
<circle cx="231.5" cy="197.5" r="1.4" fill="#c41212"/>
<circle cx="236.7" cy="194.4" r="1.4" fill="#c41212"/>
<circle cx="236.1" cy="196.8" r="1.4" fill="#c41212"/>
<circle cx="242.7" cy="190.9" r="1.4" fill="#c41212"/>
<circle cx="244.4" cy="197.4" r="1.4" fill="#c41212"/>
<circle cx="247.5" cy="193.6" r="1.1" fill="none" stroke="#c41212" stroke-width="1.1"/>
<circle cx="244" cy="197.5" r="1.4" fill="#c41212"/>
<circle cx="257" cy="188.7" r="1.4" fill="#c41212"/>
<circle cx="254" cy="192.2" r="1.4" fill="#c41212"/>
<circle cx="254.7" cy="195.8" r="1.4" fill="#c41212"/>
<circle cx="259.4" cy="192" r="1.4" fill="#c41212"/>
<circle cx="264.7" cy="190.4" r="1.4" fill="#c41212"/>
<circle cx="272.4" cy="185.7" r="1.4" fill="#c41212"/>
<circle cx="272.4" cy="187.5" r="1.4" fill="#c41212"/>
<circle cx="271.8" cy="191.6" r="1.4" fill="#c41212"/>
<circle cx="306.5" cy="176" r="1.4" fill="#c41212"/>
<circle cx="309.8" cy="181.8" r="1.4" fill="#c41212"/>
<path d="M201.00,192.10 C203.17,192.17 209.83,192.32 214.00,192.50 C218.17,192.68 222.17,192.98 226.00,193.20 C229.83,193.42 234.00,193.67 237.00,193.80 C240.00,193.93 241.83,194.05 244.00,194.00 C246.17,193.95 248.00,193.78 250.00,193.50 C252.00,193.22 253.67,192.82 256.00,192.30 C258.33,191.78 261.33,191.12 264.00,190.40 C266.67,189.68 269.00,188.82 272.00,188.00 C275.00,187.18 278.67,186.37 282.00,185.50 C285.33,184.63 290.33,183.25 292.00,182.80" fill="none" stroke="#000" stroke-width="1.05"/>
<path d="M201.00,195.30 C202.80,195.30 208.02,195.02 211.80,195.30 C215.58,195.58 220.17,196.22 223.70,197.00 C227.23,197.78 229.62,198.97 233.00,200.00 C236.38,201.03 240.83,202.28 244.00,203.20 C247.17,204.12 249.67,204.82 252.00,205.50 C254.33,206.18 255.67,206.63 258.00,207.30 C260.33,207.97 263.08,208.78 266.00,209.50 C268.92,210.22 272.67,211.08 275.50,211.60 C278.33,212.12 280.25,212.33 283.00,212.60 C285.75,212.87 290.50,213.10 292.00,213.20" fill="none" stroke="#000" stroke-width="1.15" stroke-dasharray="1.8,0.9"/>
<path d="M195.7,145.4 H317.5 V234.9 H195.7 Z" fill="none" stroke="#262626" stroke-width="1.0"/>
<path d="M216.00,234.9 V233.6 M216.00,145.4 V146.70000000000002" stroke="#262626" stroke-width="0.9"/>
<text x="216.00" y="243.79999999999998" font-size="9.7" text-anchor="middle" fill="#222" textLength="5.004" lengthAdjust="spacingAndGlyphs">5</text>
<path d="M241.38,234.9 V233.6 M241.38,145.4 V146.70000000000002" stroke="#262626" stroke-width="0.9"/>
<text x="241.38" y="243.79999999999998" font-size="9.7" text-anchor="middle" fill="#222" textLength="10.008" lengthAdjust="spacingAndGlyphs">10</text>
<path d="M266.75,234.9 V233.6 M266.75,145.4 V146.70000000000002" stroke="#262626" stroke-width="0.9"/>
<text x="266.75" y="243.79999999999998" font-size="9.7" text-anchor="middle" fill="#222" textLength="10.008" lengthAdjust="spacingAndGlyphs">15</text>
<path d="M292.12,234.9 V233.6 M292.12,145.4 V146.70000000000002" stroke="#262626" stroke-width="0.9"/>
<text x="292.12" y="243.79999999999998" font-size="9.7" text-anchor="middle" fill="#222" textLength="10.008" lengthAdjust="spacingAndGlyphs">20</text>
<path d="M317.50,234.9 V233.6 M317.50,145.4 V146.70000000000002" stroke="#262626" stroke-width="0.9"/>
<text x="317.50" y="243.79999999999998" font-size="9.7" text-anchor="middle" fill="#222" textLength="10.008" lengthAdjust="spacingAndGlyphs">25</text>
<path d="M195.7,218.5 H197.0 M317.5,218.5 H316.2" stroke="#262626" stroke-width="0.9"/>
<text x="193.80" y="222.10" font-size="9.7" text-anchor="end" fill="#222" textLength="17.514" lengthAdjust="spacingAndGlyphs">0.95</text>
<path d="M195.7,192.5 H197.0 M317.5,192.5 H316.2" stroke="#262626" stroke-width="0.9"/>
<text x="193.80" y="196.10" font-size="9.7" text-anchor="end" fill="#222" textLength="5.004" lengthAdjust="spacingAndGlyphs">1</text>
<path d="M195.7,166.5 H197.0 M317.5,166.5 H316.2" stroke="#262626" stroke-width="0.9"/>
<text x="193.80" y="170.10" font-size="9.7" text-anchor="end" fill="#222" textLength="17.514" lengthAdjust="spacingAndGlyphs">1.05</text>
<text x="256.60" y="139.35" font-size="10" text-anchor="middle" fill="#111">MR T1</text>
<text x="256.5" y="252.5" font-size="10" text-anchor="middle" fill="#111">CR</text>
<text transform="translate(174.1,190.55) rotate(-90)" x="0" y="0" font-size="10" text-anchor="middle" fill="#111">MPR</text>
<circle cx="382.7" cy="185" r="1.4" fill="#0c0cbc"/>
<circle cx="377.1" cy="188.3" r="1.4" fill="#0c0cbc"/>
<circle cx="381.3" cy="188.8" r="1.4" fill="#0c0cbc"/>
<circle cx="384.2" cy="190.2" r="1.4" fill="#0c0cbc"/>
<circle cx="377.1" cy="191.6" r="1.4" fill="#0c0cbc"/>
<circle cx="381.3" cy="192.6" r="1.4" fill="#0c0cbc"/>
<circle cx="390.3" cy="193.1" r="1.4" fill="#0c0cbc"/>
<circle cx="394.8" cy="195.3" r="1.4" fill="#0c0cbc"/>
<circle cx="395.4" cy="197.1" r="1.4" fill="#0c0cbc"/>
<circle cx="393" cy="198.9" r="1.4" fill="#0c0cbc"/>
<circle cx="390.1" cy="201.3" r="1.4" fill="#0c0cbc"/>
<circle cx="391.8" cy="202.4" r="1.4" fill="#0c0cbc"/>
<circle cx="398.4" cy="200.1" r="1.4" fill="#0c0cbc"/>
<circle cx="399.5" cy="197.1" r="1.4" fill="#0c0cbc"/>
<circle cx="403.1" cy="198.3" r="1.4" fill="#0c0cbc"/>
<circle cx="408.4" cy="198.1" r="1.4" fill="#0c0cbc"/>
<circle cx="408.4" cy="202.4" r="1.4" fill="#0c0cbc"/>
<circle cx="412.6" cy="201.8" r="1.4" fill="#0c0cbc"/>
<circle cx="414.4" cy="203" r="1.4" fill="#0c0cbc"/>
<circle cx="404.9" cy="207.2" r="1.4" fill="#0c0cbc"/>
<circle cx="406.7" cy="208.4" r="1.4" fill="#0c0cbc"/>
<circle cx="408.4" cy="209.5" r="1.4" fill="#0c0cbc"/>
<circle cx="415" cy="207.8" r="1.4" fill="#0c0cbc"/>
<circle cx="409.6" cy="214.9" r="1.4" fill="#0c0cbc"/>
<circle cx="410.8" cy="217.3" r="1.4" fill="#0c0cbc"/>
<circle cx="420.9" cy="214.9" r="1.4" fill="#0c0cbc"/>
<circle cx="424.4" cy="214.9" r="1.4" fill="#0c0cbc"/>
<circle cx="428" cy="219" r="1.4" fill="#0c0cbc"/>
<circle cx="419.2" cy="221.3" r="1.4" fill="#0c0cbc"/>
<circle cx="421" cy="221.2" r="1.4" fill="#0c0cbc"/>
<circle cx="423" cy="220" r="1.4" fill="#0c0cbc"/>
<circle cx="428.8" cy="219.2" r="1.4" fill="#0c0cbc"/>
<circle cx="434.9" cy="212.6" r="1.4" fill="#0c0cbc"/>
<circle cx="433.8" cy="216.7" r="1.4" fill="#0c0cbc"/>
<circle cx="437.6" cy="221.2" r="1.4" fill="#0c0cbc"/>
<circle cx="441.2" cy="218.9" r="1.4" fill="#0c0cbc"/>
<circle cx="432.1" cy="227.2" r="1.1" fill="none" stroke="#0c0cbc" stroke-width="1.1"/>
<circle cx="442.9" cy="224.2" r="1.4" fill="#0c0cbc"/>
<circle cx="446.5" cy="225" r="1.4" fill="#0c0cbc"/>
<circle cx="447.9" cy="226.7" r="1.4" fill="#0c0cbc"/>
<circle cx="454.5" cy="221.7" r="1.4" fill="#0c0cbc"/>
<circle cx="455.3" cy="222.5" r="1.4" fill="#0c0cbc"/>
<circle cx="459.1" cy="217.9" r="1.4" fill="#0c0cbc"/>
<circle cx="457" cy="226.7" r="1.4" fill="#0c0cbc"/>
<circle cx="462" cy="230.5" r="1.4" fill="#0c0cbc"/>
<circle cx="443.7" cy="234.1" r="1.1" fill="none" stroke="#0c0cbc" stroke-width="1.1"/>
<circle cx="449.5" cy="234.1" r="1.1" fill="none" stroke="#0c0cbc" stroke-width="1.1"/>
<circle cx="462.4" cy="235.5" r="1.4" fill="#0c0cbc"/>
<circle cx="468.6" cy="232.5" r="1.4" fill="#0c0cbc"/>
<circle cx="361.4" cy="184.7" r="1.4" fill="#c41212"/>
<circle cx="376.1" cy="184" r="1.4" fill="#c41212"/>
<circle cx="378" cy="186.5" r="1.4" fill="#c41212"/>
<circle cx="379.9" cy="185" r="1.4" fill="#c41212"/>
<circle cx="377" cy="184.8" r="1.4" fill="#c41212"/>
<circle cx="390.3" cy="183.6" r="1.4" fill="#c41212"/>
<circle cx="390.8" cy="187.4" r="1.4" fill="#c41212"/>
<circle cx="397.4" cy="186.9" r="1.4" fill="#c41212"/>
<circle cx="397.9" cy="191.6" r="1.4" fill="#c41212"/>
<circle cx="395.1" cy="194.5" r="1.4" fill="#c41212"/>
<circle cx="402.5" cy="194.7" r="1.4" fill="#c41212"/>
<circle cx="409.6" cy="193" r="1.4" fill="#c41212"/>
<circle cx="413.2" cy="193.3" r="1.4" fill="#c41212"/>
<path d="M424.59999999999997,197.1 L421.18,195.2 L421.18,199.0Z" fill="#c41212"/>
<path d="M426.1,192.4 L429.52,190.5 L429.52,194.3Z" fill="#c41212"/>
<circle cx="413.8" cy="203" r="1.4" fill="#c41212"/>
<circle cx="404.6" cy="184.8" r="1.4" fill="#c41212"/>
<circle cx="402.2" cy="187.6" r="1.4" fill="#c41212"/>
<circle cx="413.2" cy="185.9" r="1.1" fill="none" stroke="#c41212" stroke-width="1.1"/>
<circle cx="416.3" cy="180" r="1.4" fill="#c41212"/>
<circle cx="455.5" cy="162.8" r="1.4" fill="#c41212"/>
<circle cx="481.6" cy="164.8" r="1.1" fill="none" stroke="#c41212" stroke-width="1.1"/>
<circle cx="448.6" cy="177.3" r="1.1" fill="none" stroke="#c41212" stroke-width="1.1"/>
<circle cx="448.6" cy="180.6" r="1.4" fill="#c41212"/>
<path d="M449.59999999999997,183.2 H452.8 M451.2,181.6 V184.79999999999998" stroke="#c41212" stroke-width="1.1"/>
<circle cx="463.5" cy="179.2" r="1.4" fill="#c41212"/>
<path d="M471.8,181.2 L475.21999999999997,179.29999999999998 L475.21999999999997,183.1Z" fill="#c41212"/>
<circle cx="481.6" cy="187.5" r="1.4" fill="#c41212"/>
<circle cx="426.3" cy="182" r="0.7" fill="#c41212" opacity="0.6"/>
<circle cx="471.4" cy="173.3" r="0.7" fill="#c41212" opacity="0.6"/>
<path d="M366.60,183.60 C368.50,183.83 374.37,184.45 378.00,185.00 C381.63,185.55 384.73,186.22 388.40,186.90 C392.07,187.58 396.07,188.55 400.00,189.10 C403.93,189.65 408.33,190.02 412.00,190.20 C415.67,190.38 418.67,190.40 422.00,190.20 C425.33,190.00 428.67,189.70 432.00,189.00 C435.33,188.30 439.00,187.17 442.00,186.00 C445.00,184.83 447.25,183.45 450.00,182.00 C452.75,180.55 457.08,178.08 458.50,177.30" fill="none" stroke="#000" stroke-width="1.05"/>
<path d="M367.10,190.70 C368.45,190.22 372.88,188.17 375.20,187.80 C377.52,187.43 378.80,187.93 381.00,188.50 C383.20,189.07 385.90,190.12 388.40,191.20 C390.90,192.28 393.45,193.62 396.00,195.00 C398.55,196.38 401.63,198.17 403.70,199.50 C405.77,200.83 406.43,201.42 408.40,203.00 C410.37,204.58 413.23,207.25 415.50,209.00 C417.77,210.75 419.58,212.28 422.00,213.50 C424.42,214.72 427.67,215.47 430.00,216.30 C432.33,217.13 433.17,217.13 436.00,218.50 C438.83,219.87 443.37,223.17 447.00,224.50 C450.63,225.83 456.00,226.17 457.80,226.50" fill="none" stroke="#000" stroke-width="1.15" stroke-dasharray="1.8,0.9"/>
<path d="M361.4,146.5 H483.5 V235.45 H361.4 Z" fill="none" stroke="#262626" stroke-width="1.0"/>
<path d="M381.75,235.45 V234.14999999999998 M381.75,146.5 V147.8" stroke="#262626" stroke-width="0.9"/>
<text x="381.75" y="244.7" font-size="9.7" text-anchor="middle" fill="#222" textLength="5.004" lengthAdjust="spacingAndGlyphs">5</text>
<path d="M407.19,235.45 V234.14999999999998 M407.19,146.5 V147.8" stroke="#262626" stroke-width="0.9"/>
<text x="407.19" y="244.7" font-size="9.7" text-anchor="middle" fill="#222" textLength="10.008" lengthAdjust="spacingAndGlyphs">10</text>
<path d="M432.62,235.45 V234.14999999999998 M432.62,146.5 V147.8" stroke="#262626" stroke-width="0.9"/>
<text x="432.62" y="244.7" font-size="9.7" text-anchor="middle" fill="#222" textLength="10.008" lengthAdjust="spacingAndGlyphs">15</text>
<path d="M458.06,235.45 V234.14999999999998 M458.06,146.5 V147.8" stroke="#262626" stroke-width="0.9"/>
<text x="458.06" y="244.7" font-size="9.7" text-anchor="middle" fill="#222" textLength="10.008" lengthAdjust="spacingAndGlyphs">20</text>
<path d="M483.50,235.45 V234.14999999999998 M483.50,146.5 V147.8" stroke="#262626" stroke-width="0.9"/>
<text x="483.50" y="244.7" font-size="9.7" text-anchor="middle" fill="#222" textLength="10.008" lengthAdjust="spacingAndGlyphs">25</text>
<path d="M361.4,229.5 H362.7 M483.5,229.5 H482.2" stroke="#262626" stroke-width="0.9"/>
<text x="359.50" y="233.10" font-size="9.7" text-anchor="end" fill="#222" textLength="17.514" lengthAdjust="spacingAndGlyphs">0.96</text>
<path d="M361.4,207.13 H362.7 M483.5,207.13 H482.2" stroke="#262626" stroke-width="0.9"/>
<text x="359.50" y="210.73" font-size="9.7" text-anchor="end" fill="#222" textLength="17.514" lengthAdjust="spacingAndGlyphs">0.98</text>
<path d="M361.4,184.77 H362.7 M483.5,184.77 H482.2" stroke="#262626" stroke-width="0.9"/>
<text x="359.50" y="188.37" font-size="9.7" text-anchor="end" fill="#222" textLength="5.004" lengthAdjust="spacingAndGlyphs">1</text>
<path d="M361.4,162.4 H362.7 M483.5,162.4 H482.2" stroke="#262626" stroke-width="0.9"/>
<text x="359.50" y="166.00" font-size="9.7" text-anchor="end" fill="#222" textLength="17.514" lengthAdjust="spacingAndGlyphs">1.02</text>
<text x="422.45" y="139.35" font-size="10" text-anchor="middle" fill="#111">MR T2</text>
<text x="422.8" y="252.5" font-size="10" text-anchor="middle" fill="#111">CR</text>
<text transform="translate(340.09999999999997,191.38) rotate(-90)" x="0" y="0" font-size="10" text-anchor="middle" fill="#111">MPR</text>
</svg></body></html>
